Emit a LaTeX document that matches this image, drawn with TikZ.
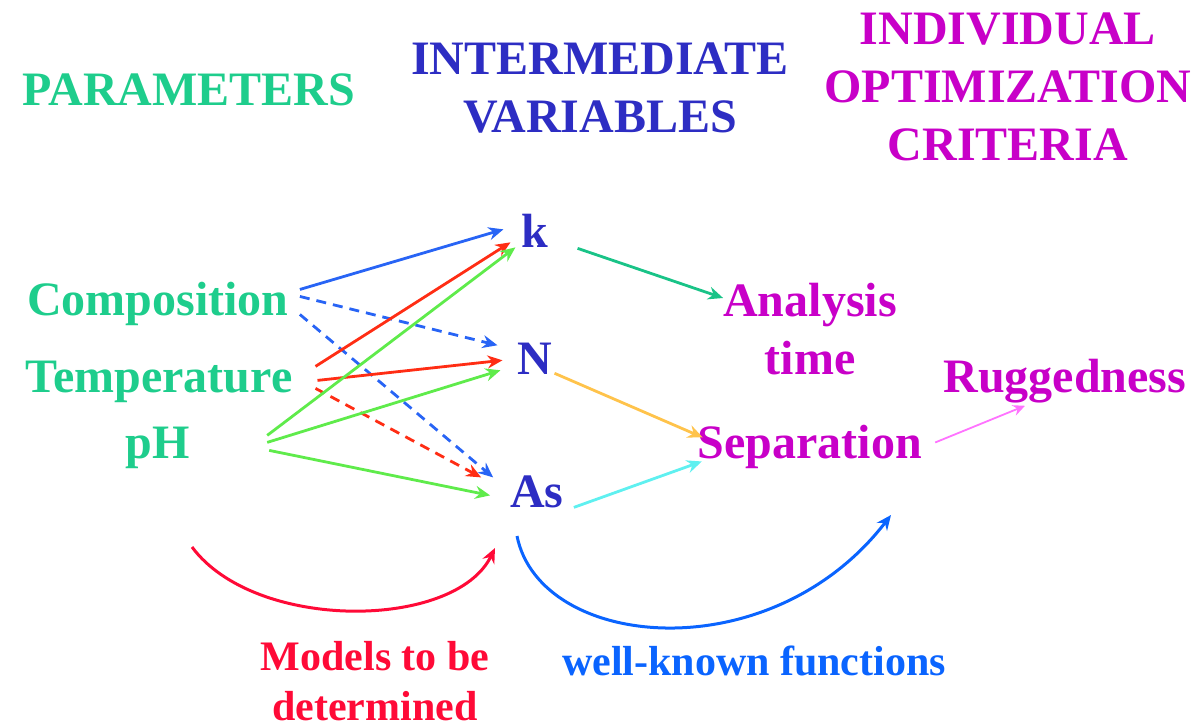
\documentclass[tikz,border=0pt]{standalone}
\usepackage{fontspec}
\setmainfont{Liberation Serif}
\usetikzlibrary{arrows.meta}

\definecolor{parcol}{RGB}{30,205,140}
\definecolor{intcol}{RGB}{45,45,195}
\definecolor{critcol}{RGB}{200,0,200}
\definecolor{arblue}{RGB}{40,100,245}
\definecolor{arred}{RGB}{255,45,20}
\definecolor{argreen}{RGB}{95,235,75}
\definecolor{arteal}{RGB}{25,195,135}
\definecolor{arorange}{RGB}{255,195,75}
\definecolor{arcyan}{RGB}{95,240,240}
\definecolor{arpink}{RGB}{255,115,255}
\definecolor{modred}{RGB}{255,10,55}
\definecolor{funblue}{RGB}{10,100,255}

\begin{document}
\begin{tikzpicture}[
  x=1pt, y=-1pt,
  lbl/.style={inner sep=0pt, anchor=base,
              font=\fontsize{48}{58}\selectfont\bfseries},
  head/.style={lbl, anchor=center, align=center},
  small/.style={inner sep=0pt, anchor=center, align=center,
                font=\fontsize{42}{50}\selectfont\bfseries},
  arr/.style={-{Stealth[length=15pt,width=13pt,inset=5pt]}, line width=2.8pt},
  thinarr/.style={-{Stealth[length=12pt,width=11pt,inset=4pt]}, line width=1.8pt},
  dsh/.style={dash pattern=on 10pt off 7pt}
]
\useasboundingbox (0,0) rectangle (1200,728);

% column headings
\node[head, text=parcol]  (par)   at (189,90)   {PARAMETERS};
\node[head, text=intcol]  (inter) at (600,88)   {INTERMEDIATE\\VARIABLES};
\node[head, text=critcol] (crit)  at (1008,87)  {INDIVIDUAL\\OPTIMIZATION\\CRITERIA};

% parameters
\node[lbl, text=parcol] (comp) at (158,315) {Composition};
\node[lbl, text=parcol] (temp) at (159,392) {Temperature};
\node[lbl, text=parcol] (ph)   at (158,458) {pH};

% intermediate variables
\node[lbl, text=intcol] (k)  at (535,247) {k};
\node[lbl, text=intcol] (N)  at (535,374) {N};
\node[lbl, text=intcol] (As) at (537,507) {As};

% criteria
\node[head, text=critcol] (ana) at (810,329) {Analysis\\time};
\node[lbl, text=critcol]  (sep) at (810,458) {Separation};
\node[lbl, text=critcol]  (rug) at (1065,392) {Ruggedness};

% parameters -> variables
\draw[arr, arblue]            ([shift={(11,-14)}]comp.east) -- ([shift={(-18,-1)}]k.west);
\draw[arr, arblue, dsh]       ([shift={(11,-7)}]comp.east)  -- ([shift={(-20,-13)}]N.west);
\draw[arr, arblue, dsh]       ([shift={(11,11)}]comp.east)  -- ([shift={(-17,-14)}]As.west);
\draw[arr, arred]             ([shift={(23,-15)}]temp.east) -- ([shift={(-11,12)}]k.west);
\draw[arr, arred]             ([shift={(25,-1)}]temp.east)  -- ([shift={(-15,2)}]N.west);
\draw[arr, arred, dsh]        ([shift={(23,7)}]temp.east)   -- ([shift={(-29,-14)}]As.west);
\draw[arr, argreen]           ([shift={(77,-12)}]ph.east)   -- ([shift={(-6,17)}]k.west);
\draw[arr, argreen]           ([shift={(77,-5)}]ph.east)    -- ([shift={(-17,12)}]N.west);
\draw[arr, argreen]           ([shift={(79,3)}]ph.east)     -- ([shift={(-20,4)}]As.west);

% variables -> criteria
\draw[arr, arteal]   ([shift={(29,18)}]k.east)  -- ([shift={(0,-31)}]ana.west);
\draw[arr, arorange] ([shift={(2,15)}]N.east)   -- ([shift={(5,-9)}]sep.west);
\draw[arr, arcyan]   ([shift={(10,16)}]As.east) -- ([shift={(4,15)}]sep.west);
\draw[thinarr, arpink] ([shift={(13,-4)}]sep.east) -- ([shift={(-40,3)}]rug.south);

% bottom curves
\coordinate (m0) at (192,547);
\coordinate (m1) at (495,548);
\coordinate (f0) at (517,536);
\coordinate (f1) at (891,515);
\draw[arr, modred, line width=3pt]  (m0) .. controls (255,632) and (455,630) .. (m1);
\draw[arr, funblue, line width=3pt] (f0) .. controls (540,650) and (770,672) .. (f1);

\node[small, text=modred]  (mod) at (375,681) {Models to be\\determined};
\node[small, text=funblue] (fun) at (754,661) {well-known functions};
\end{tikzpicture}
\end{document}
